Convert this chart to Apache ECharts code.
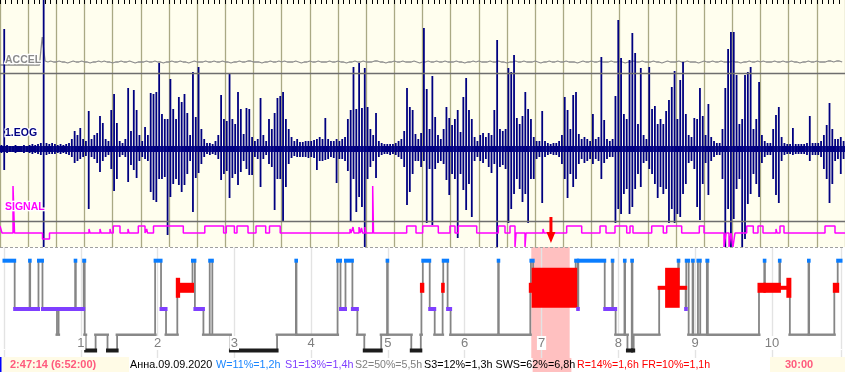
<!DOCTYPE html>
<html><head><meta charset="utf-8">
<script src="https://cdn.jsdelivr.net/npm/echarts@6/dist/echarts.min.js"></script>
<style>html,body{margin:0;padding:0;background:#fff}#c{width:845px;height:372px}</style>
</head><body><div id="c"></div>
<script>
// ---------------- DATA ----------------
const WINDOW_MIN = 30;          // top panel: 30-minute window
const BIN_MIN = 0.1;            // 6-second bins for the traces
// EOG per-bin maximum / minimum deflection (display units)
const eogHigh = [
4,120,4,3,3,4,3,3,4,3, 4,5,4,5,6,149,6,5,6,5, 4,5,4,5,6,10,18,14,21,10,
8,38,10,14,16,33,26,10,8,39, 55,26,8,6,10,61,18,59,39,14, 8,22,14,56,55,57,86,35,30,30,
70,40,30,52,47,55,36,14,77,32, 82,20,10,6,6,5,8,14,54,30, 28,76,30,25,57,40,15,41,40,12,
8,10,51,14,8,30,20,36,51,53, 57,30,20,12,8,10,7,7,8,8, 8,9,10,12,10,31,10,8,8,10,
8,10,12,30,39,82,40,86,41,81, 42,20,14,36,8,6,5,5,5,5, 6,8,10,18,61,42,39,15,10,16,
121,60,20,73,32,14,10,20,42,31, 24,30,39,17,52,71,39,30,12,8, 14,16,12,16,14,39,109,20,18,20,
81,77,94,31,25,33,57,40,30,12, 8,8,38,8,6,5,6,6,8,14, 52,39,20,54,57,15,10,12,10,8,
35,10,12,92,29,10,8,10,53,129, 91,35,30,89,116,96,25,81,14,10, 82,40,43,25,30,25,38,49,62,78,
30,69,87,35,14,12,31,30,61,33, 14,45,12,8,6,6,20,61,100,117, 117,74,25,30,74,77,82,20,30,67,
14,8,6,6,20,34,42,12,6,5, 5,21,5,5,5,5,6,33,6,6, 6,8,14,24,46,20,10,10,12,8
];
const eogLow = [
-4,-21,-4,-3,-3,-4,-3,-3,-4,-3, -4,-5,-4,-5,-6,-98,-6,-5,-5,-5, -4,-5,-4,-5,-6,-8,-14,-12,-10,-8,
-7,-60,-8,-10,-14,-23,-12,-8,-6,-20, -42,-30,-8,-6,-8,-33,-16,-21,-29,-12, -8,-10,-12,-43,-51,-53,-30,-30,-28,-86,
-48,-35,-30,-36,-43,-36,-25,-12,-63,-29, -24,-15,-8,-5,-6,-5,-6,-10,-31,-25, -22,-49,-29,-25,-36,-23,-12,-20,-26,-26,
-8,-10,-38,-10,-6,-15,-18,-61,-30,-30, -73,-38,-15,-9,-7,-8,-8,-8,-8,-9, -8,-9,-21,-12,-12,-11,-10,-8,-9,-34,
-10,-10,-12,-22,-73,-30,-63,-48,-58,-98, -30,-18,-12,-29,-8,-6,-5,-5,-6,-5, -6,-8,-10,-18,-56,-43,-25,-12,-12,-18,
-12,-74,-20,-76,-20,-14,-12,-15,-31,-46, -25,-30,-89,-25,-41,-61,-35,-68,-12,-8, -12,-14,-10,-18,-24,-15,-98,-18,-16,-20,
-74,-60,-45,-30,-40,-53,-45,-74,-30,-30, -10,-8,-54,-8,-6,-5,-6,-6,-8,-15, -30,-49,-25,-38,-30,-15,-10,-14,-12,-10,
-15,-10,-12,-30,-14,-10,-8,-8,-74,-60, -65,-45,-40,-65,-58,-40,-25,-38,-14,-12, -20,-25,-35,-49,-38,-45,-40,-74,-60,-74,
-65,-68,-45,-35,-14,-12,-20,-58,-71,-35, -14,-46,-12,-8,-6,-6,-30,-98,-60,-98, -70,-40,-30,-98,-90,-55,-45,-25,-35,-48,
-14,-8,-6,-6,-30,-46,-54,-12,-6,-5, -5,-6,-5,-5,-5,-5,-6,-12,-6,-6, -6,-8,-20,-30,-54,-35,-12,-10,-25,-10
];
// ACCEL trace, one value per bin
const accel = [
-3,-3,-3,-3,-3,-3,-3,-3,-3,-3,-3,-3,-3,-3,-3,25,1,0,1,0,
0,1,0,0,-1,0,1,0,0,1,0,0,-1,0,0,1,0,1,0,0,
-1,0,0,1,0,0,1,0,-1,0,0,0,1,0,0,1,0,0,-1,0,
0,1,0,0,1,0,0,-1,0,1,0,0,0,1,0,0,1,0,0,1,
0,0,-1,0,0,1,0,0,1,1,0,0,0,-1,0,0,1,0,0,1,
0,1,0,0,0,1,0,-1,0,0,1,0,0,1,0,0,0,1,0,0,
1,0,0,-1,0,0,1,0,0,1,0,0,0,1,1,0,0,-1,0,0,
1,0,0,1,0,0,0,1,0,-1,0,0,1,0,0,1,0,0,1,0,
0,0,1,0,0,-1,0,0,1,0,1,0,0,0,1,0,0,1,0,0,
-1,0,0,1,0,0,1,0,0,0,1,0,-1,0,0,1,0,0,1,0,
0,1,0,0,0,-1,0,1,0,0,1,0,0,1,0,0,0,1,0,0,
1,0,-1,0,0,1,0,0,1,0,0,0,1,0,0,-1,0,1,0,0,
0,1,0,0,1,0,0,0,-1,0,1,0,0,1,0,0,1,0,0,0,
1,0,0,-1,0,0,1,0,0,1,0,1,0,0,0,1,0,0,1,0,
0,1,0,0,-1,0,0,1,0,0,1,0,0,0,1,1,0,1,1,0
];
// SIGNAL step trace: change times (min) and levels
const sigTimes = [0,0.071,0.462,0.515,1.509,1.757,3.160,3.195,3.550,3.586,3.905,3.941,4.022,4.260,4.544,4.580,
4.910,5.148,5.208,5.237,5.450,6.508,7.271,7.938,8.034,8.322,8.414,8.805,9.089,9.433,9.568,9.948,
12.426,12.462,12.533,12.568,12.746,12.781,12.834,12.870,12.959,12.994,13.232,13.260,14.439,14.769,
15.007,15.561,15.976,16.154,16.271,16.924,17.691,17.929,18.106,18.284,18.320,18.639,18.675,19.278,19.314,
20.119,20.652,21.302,21.515,21.834,22.250,22.367,22.473,23.137,23.549,23.670,24.202,24.827,24.994,
25.704,25.775,25.882,25.953,26.023,26.094,26.510,26.744,26.911,27.089,27.550,27.586,27.692,27.834,
29.290,29.645,30];
const sigLevels = [7,0,47,0,-6,0,4,0,4,0,4,0,7,0,4,0,
7,0,4,0,7,0,7,0,7,0,7,0,7,0,7,0,
4,0,6,0,6,0,5,0,6,0,47,0,7,0,
7,0,7,0,7,0,7,0,7,-14,0,-14,0,4,0,
7,0,7,0,7,0,7,0,7,0,7,0,7,0,
-14,0,-14,0,-14,0,7,0,7,0,4,0,7,0,
7,0,0];
const cursorMin = 19.56, cursorTop = 16, cursorTip = -10;

// Hypnogram (hours from start)
const hypTimes = [0,0.139,0.333,0.341,0.449,0.501,0.690,0.711,0.927,0.935,1.038,
1.051,1.064,1.193,1.348,1.473,1.968,2.045,2.110,2.257,2.274,
2.455,2.486,2.597,2.679,2.713,2.949,3.556,3.801,3.809,4.344,
4.382,4.447,4.537,4.602,4.692,4.912,4.989,4.997,5.304,5.428,
5.436,5.454,5.544,5.609,5.712,5.720,5.777,5.816,6.436,6.443,
6.854,6.862,6.891,7.445,7.471,7.479,7.823,7.921,7.929,7.965,
8.080,8.088,8.119,8.175,8.184,8.200,8.532,8.629,8.780,8.788,
8.877,8.885,8.916,8.967,8.976,9.037,9.067,9.153,9.166,9.832,
9.901,9.909,10.098,10.106,10.208,10.234,10.477,10.485,10.813,10.857,
10.9];
const hypStages = ['W','S1','W','S1','W','S1','S2','S1','W','S1',
'W','S2','S3','S2','S3','S2','W','S1','S2','R',
'R','W','S1','S2','W','S2','S3','S2','W','S2',
'W','S1','W','S1','S2','S3','S2','W','S2','S3',
'S2','R','W','S1','S2','R','W','S1','S2','W',
'S2','R','W','R','W','S1','W','S1','W','S1',
'S2','W','S2','S3','W','S3','S2','R','R','W',
'R','S1','W','S2','W','S2','W','S2','W','S2',
'R','W','R','W','R','R','S2','W','S2','R',
'W'];
const remDensity = [0,0,0,0,0,0,0,0,0,0, 0,0,0,0,0,0,0,0,0,2, 1,0,0,0,0,0,0,0,0,0,
0,0,0,0,0,0,0,0,0,0, 0,1,0,0,0,1,0,0,0,0, 0,1,0,4,0,0,0,0,0,0,
0,0,0,0,0,0,0,0.4,4,0, 0.4,0,0,0,0,0,0,0,0,0, 1,0,1,0,0.4,2,0,0,0,1, 0];
const windowStartH = 6 + 52/60, windowLenH = WINDOW_MIN/60, recordH = 10.9;
const hourLabels = ['1','2','3','4','5','6','7','8','9','10'];
const channelLabels = ['ACCEL','1.EOG','SIGNAL'];
const statusLeft = '2:47:14 (6:52:00)', statusRight = '30:00';
const statusParts = ['Анна.09.09.2020','W=11%=1,2h','S1=13%=1,4h','S2=50%=5,5h','S3=12%=1,3h SWS=62%=6,8h','R=14%=1,6h FR=10%=1,1h'];

// ---------------- STYLE ----------------
const STAGES = ['W','R','S1','S2','S3'];
const stageLevel = [13.7, 40.8, 62, 87.7, 103.5];
const stageColor = ['#0a7dff','#ff0000','#7f3fff','#888888','#1c1c1c'];
const stageThick = [4, 10, 4, 2.4, 4];
const FONT = '"Liberation Sans", Arial, sans-serif';
const EOG_CORE = 3;   // drawn thickness of the continuous trace core

const eogData = eogHigh.map((h, i) => [i*BIN_MIN, h, eogLow[i]]);
const accelData = accel.map((v, i) => [i*BIN_MIN, v]);
const sigData = sigTimes.map((t, i) => [t, sigLevels[i]]);
const segData = hypStages.map((s, i) => [hypTimes[i], hypTimes[i+1], STAGES.indexOf(s), remDensity[i]]);
const transData = [];
for (let i = 1; i < hypStages.length; i++) {
  if (hypStages[i] !== hypStages[i-1]) transData.push([hypTimes[i], STAGES.indexOf(hypStages[i-1]), STAGES.indexOf(hypStages[i])]);
}

const hourAxisBase = {type:'value', min:0, max:recordH, interval:1};
const option = {
  animation: false,
  backgroundColor: '#ffffff',
  grid: [
    {left:0, top:0, width:845, height:247, show:true, backgroundColor:'#fffeee', borderWidth:0},
    {left:0.9, top:247, width:844.2, height:111, show:false},
    {left:0.9, top:358, width:844.2, height:14, show:false}
  ],
  xAxis: [
    {gridIndex:0, type:'value', min:0, max:WINDOW_MIN, interval:1, position:'top',
     axisLine:{show:false, onZero:false}, axisLabel:{show:false},
     axisTick:{show:true, inside:true, length:4, lineStyle:{color:'#000'}},
     minorTick:{show:true, splitNumber:5, length:4, lineStyle:{color:'#000'}},
     splitLine:{show:true, lineStyle:{color:'#aaa984', width:1.3}}},
    Object.assign({gridIndex:1, position:'bottom', axisLine:{show:false, onZero:false}, axisTick:{show:false}, axisLabel:{show:false},
     splitLine:{show:true, lineStyle:{color:'#e3e3e3', width:1.4}}, z:1}, hourAxisBase),
    Object.assign({gridIndex:1, position:'bottom', axisLine:{show:false, onZero:false}, axisTick:{show:false}, splitLine:{show:false}, z:6,
     axisLabel:{show:true, inside:true, margin:8, color:'#808080', fontSize:13, fontFamily:FONT,
       backgroundColor:'#ffffff', padding:[1,1,0,1],
       formatter: v => (Number.isInteger(v) && v >= 1 && v <= hourLabels.length) ? hourLabels[v-1] : ''}}, hourAxisBase),
    Object.assign({gridIndex:2, show:false, axisLine:{onZero:false}}, hourAxisBase)
  ],
  yAxis: [
    {gridIndex:0, type:'value', min:-98, max:149, show:false},   // EOG
    {gridIndex:0, type:'value', min:-185, max:62, show:false},   // ACCEL
    {gridIndex:0, type:'value', min:-14, max:233, show:false},   // SIGNAL
    {gridIndex:1, type:'value', min:0, max:111, inverse:true, show:false},
    {gridIndex:2, type:'value', min:0, max:1, show:false}
  ],
  series: [
    {type:'line', xAxisIndex:0, yAxisIndex:1, data:accelData, showSymbol:false, symbol:'none',
     lineStyle:{color:'#8c8c8c', width:1.3}, z:2,
     markLine:{silent:true, symbol:'none', label:{show:false}, lineStyle:{color:'#6e6e6e', type:'solid', width:1.4},
       data:[{yAxis:-11}]}},
    {type:'custom', xAxisIndex:0, yAxisIndex:0, data:eogData, z:3, clip:true,
     renderItem:(p, api) => {
       const t = api.value(0), hi = api.value(1), lo = api.value(2);
       const a = api.coord([t, hi]), b = api.coord([t, lo]);
       const x0 = a[0], x1 = api.coord([t + BIN_MIN, 0])[0];
       const ca = api.coord([t, Math.min(hi, EOG_CORE)])[1], cb = api.coord([t, Math.max(lo, -EOG_CORE)])[1];
       const xm = (x0 + x1) / 2;
       return {type:'group', children:[
         {type:'rect', shape:{x:x0, y:ca, width:x1-x0+0.3, height:cb-ca}, style:{fill:'#000080'}},
         {type:'rect', shape:{x:xm-0.9, y:a[1], width:1.8, height:b[1]-a[1]}, style:{fill:'#000080'}}
       ]};
     }},
    {type:'line', xAxisIndex:0, yAxisIndex:2, data:sigData, step:'end', showSymbol:false, symbol:'none',
     lineStyle:{color:'#ff00ff', width:1.5}, z:4,
     markLine:{silent:true, symbol:'none', label:{show:false},
       data:[{yAxis:12, lineStyle:{color:'#6e6e6e', type:'solid', width:1.4}},
             {yAxis:-14, lineStyle:{color:'#a0a0a0', type:[3,2], width:1.2}}]}},
    {type:'custom', xAxisIndex:0, yAxisIndex:2, z:5, data:[[cursorMin, cursorTop, cursorTip]],
     renderItem:(p, api) => {
       const a = api.coord([api.value(0), api.value(1)]), b = api.coord([api.value(0), api.value(2)]);
       const x = a[0], hs = b[1] - 11;
       return {type:'polygon', shape:{points:[[x-1.5,a[1]],[x+1.5,a[1]],[x+1.5,hs],[x+4.5,hs],[x,b[1]],[x-4.5,hs],[x-1.5,hs]]},
               style:{fill:'#ff0000'}};
     }},
    {type:'custom', xAxisIndex:1, yAxisIndex:3, z:0, data:[[windowStartH, windowStartH + windowLenH]],
     renderItem:(p, api) => {
       const x1 = api.coord([api.value(0), 0])[0], x2 = api.coord([api.value(1), 0])[0], cs = p.coordSys;
       return {type:'rect', shape:{x:x1, y:cs.y, width:x2-x1, height:cs.height}, style:{fill:'#ffc0c0'}};
     }},
    {type:'custom', xAxisIndex:3, yAxisIndex:4, z:0, data:[[windowStartH, windowStartH + windowLenH]],
     renderItem:(p, api) => {
       const x1 = api.coord([api.value(0), 0])[0], x2 = api.coord([api.value(1), 0])[0], cs = p.coordSys;
       return {type:'rect', shape:{x:x1, y:cs.y, width:x2-x1, height:cs.height}, style:{fill:'#ffc0c0'}};
     }},
    {type:'custom', xAxisIndex:1, yAxisIndex:3, z:2, data:transData,
     renderItem:(p, api) => {
       const t = api.value(0);
       const a = api.coord([t, stageLevel[api.value(1)]]), b = api.coord([t, stageLevel[api.value(2)]]);
       return {type:'line', shape:{x1:a[0], y1:a[1], x2:b[0], y2:b[1]}, style:{stroke:'#858585', lineWidth:1.8}};
     }},
    {type:'custom', xAxisIndex:1, yAxisIndex:3, z:3, data:segData,
     renderItem:(p, api) => {
       const st = api.value(2), lv = stageLevel[st];
       const a = api.coord([api.value(0), lv]), b = api.coord([api.value(1), lv]);
       const th = st === 1 ? stageThick[1] * api.value(3) : stageThick[st];
       const x1 = a[0] - 1.5, x2 = b[0] + 1.5;
       return {type:'rect', shape:{x:x1, y:a[1]-th/2, width:x2-x1, height:th}, style:{fill:stageColor[st]}};
     }}
  ],
  graphic: {elements: [
    {type:'text', x:5, y:60, z:50, style:{text:channelLabels[0], fill:'#8a8a8a', font:'bold 10.5px '+FONT, textVerticalAlign:'middle', stroke:'#ffffff', lineWidth:2.5}},
    {type:'text', x:5, y:133, z:50, style:{text:channelLabels[1], fill:'#000080', font:'bold 10.5px '+FONT, textVerticalAlign:'middle', stroke:'#ffffff', lineWidth:2.5}},
    {type:'text', x:5, y:207.5, z:50, style:{text:channelLabels[2], fill:'#ff00ff', font:'bold 10.5px '+FONT, textVerticalAlign:'middle', stroke:'#ffffff', lineWidth:2.5}},
    {type:'rect', z:40, shape:{x:0, y:357, width:129, height:15}, style:{fill:'#fffbe6'}},
    {type:'rect', z:41, shape:{x:0, y:357, width:1.5, height:15}, style:{fill:'#0000ff'}},
    {type:'rect', z:40, shape:{x:770, y:357, width:75, height:15}, style:{fill:'#fffbe6'}},
    {type:'text', x:10, y:365, z:50, style:{text:statusLeft, fill:'#ff5a7d', font:'bold 11px '+FONT, textVerticalAlign:'middle'}},
    {type:'text', x:785, y:365, z:50, style:{text:statusRight, fill:'#ff5a7d', font:'bold 11px '+FONT, textVerticalAlign:'middle'}},
    {type:'text', x:130, y:365, z:50, style:{text:statusParts[0], fill:'#000000', font:'10.8px '+FONT, textVerticalAlign:'middle'}},
    {type:'text', x:216, y:365, z:50, style:{text:statusParts[1], fill:'#1a86ff', font:'10.8px '+FONT, textVerticalAlign:'middle'}},
    {type:'text', x:285, y:365, z:50, style:{text:statusParts[2], fill:'#7f3fff', font:'10.8px '+FONT, textVerticalAlign:'middle'}},
    {type:'text', x:355, y:365, z:50, style:{text:statusParts[3], fill:'#808080', font:'10.6px '+FONT, textVerticalAlign:'middle'}},
    {type:'text', x:424, y:365, z:50, style:{text:statusParts[4], fill:'#000000', font:'10.8px '+FONT, textVerticalAlign:'middle'}},
    {type:'text', x:577, y:365, z:50, style:{text:statusParts[5], fill:'#ff0000', font:'10.6px '+FONT, textVerticalAlign:'middle'}}
  ]}
};
const chart = echarts.init(document.getElementById('c'), null, {renderer:'canvas'});
chart.setOption(option);
</script></body></html>
